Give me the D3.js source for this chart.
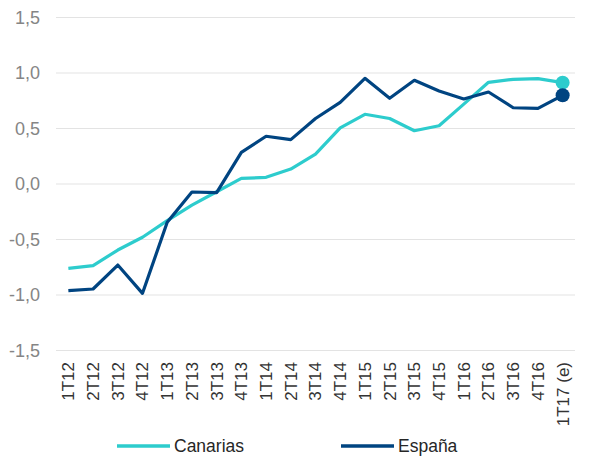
<!DOCTYPE html>
<html>
<head>
<meta charset="utf-8">
<script src="https://cdn.jsdelivr.net/npm/d3@7"></script>
<style>
  body { margin: 0; background: #fff; }
  svg { display: block; }
</style>
</head>
<body>
<script>
var w = 591;
var h = 461;

// data
var quarters = ["1T12","2T12","3T12","4T12","1T13","2T13","3T13","4T13","1T14","2T14","3T14",
                "4T14","1T15","2T15","3T15","4T15","1T16","2T16","3T16","4T16","1T17 (e)"];
var canarias = [-0.76,-0.735,-0.595,-0.48,-0.33,-0.19,-0.07,0.05,0.06,0.135,0.27,
                0.505,0.628,0.59,0.48,0.525,0.72,0.916,0.943,0.949,0.913];
var espana = [-0.96,-0.946,-0.73,-0.985,-0.345,-0.072,-0.078,0.285,0.43,0.40,0.59,
              0.736,0.952,0.772,0.934,0.838,0.766,0.829,0.687,0.682,0.799];
var yTicks = [-1.5,-1,-0.5,0,0.5,1,1.5];
var seriesNames = ["Canarias","España"];
var colors = ["#2dcccd","#004481"];

var svg = d3.select("body").append("svg")
    .attr("width", w)
    .attr("height", h)
    .style("font-family", "Arial, 'Liberation Sans', sans-serif");

var x = d3.scalePoint()
    .domain(quarters)
    .range([56, 575])
    .padding(0.5);

var y = d3.scaleLinear()
    .domain([-1.5, 1.5])
    .range([350.5, 17.5]);

var fmt = function(d){ return d3.format(".1f")(d).replace(".", ",").replace("−","-"); };

// grid
svg.append("g")
  .selectAll("line")
  .data(yTicks)
  .join("line")
    .attr("x1", 56)
    .attr("x2", 575)
    .attr("y1", d => y(d))
    .attr("y2", d => y(d))
    .attr("stroke", "#e3e3e3")
    .attr("stroke-width", 1.2);

// y labels
svg.append("g")
  .selectAll("text")
  .data(yTicks)
  .join("text")
    .attr("x", 40)
    .attr("y", d => y(d))
    .attr("dy", "0.35em")
    .attr("text-anchor", "end")
    .attr("fill", "#858585")
    .style("font-size", "18px")
    .text(fmt);

// x labels, rotated
svg.append("g")
  .selectAll("text")
  .data(quarters)
  .join("text")
    .attr("transform", d => "translate(" + x(d) + ",362)rotate(-90)")
    .attr("dy", "0.35em")
    .attr("text-anchor", "end")
    .attr("fill", "#333")
    .style("font-size", "17px")
    .text(d => d);

var line = d3.line()
    .x((d, i) => x(quarters[i]))
    .y(d => y(d));

var allSeries = [canarias, espana];

allSeries.forEach(function(s, k) {
  svg.append("path")
    .datum(s)
    .attr("d", line)
    .attr("fill", "none")
    .attr("stroke", colors[k])
    .attr("stroke-width", 3.2)
    .attr("stroke-linejoin", "round");
});

// end dots
allSeries.forEach(function(s, k) {
  var last = s.length - 1;
  svg.append("circle")
    .attr("cx", x(quarters[last]))
    .attr("cy", y(s[last]))
    .attr("r", 7)
    .attr("fill", colors[k]);
});

// legend
var legX = [117, 341];
var leg = svg.append("g")
  .selectAll("g")
  .data(seriesNames)
  .join("g")
    .attr("transform", (d, i) => "translate(" + legX[i] + ",446)");

leg.append("line")
    .attr("x1", 0)
    .attr("x2", 53)
    .attr("stroke", (d, i) => colors[i])
    .attr("stroke-width", 3.5);

leg.append("text")
    .attr("x", 57)
    .attr("dy", "0.35em")
    .attr("fill", "#262626")
    .style("font-size", "17.5px")
    .text(d => d);
</script>
</body>
</html>
